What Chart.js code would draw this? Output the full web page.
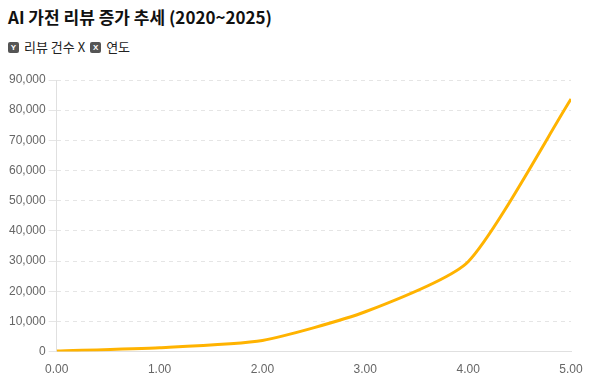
<!DOCTYPE html>
<html><head><meta charset="utf-8">
<script src="https://cdn.jsdelivr.net/npm/chart.js@4/dist/chart.umd.min.js"></script>
<style>
body{margin:0;width:594px;height:381px;overflow:hidden;background:#fff;font-family:"Noto Sans CJK KR","Noto Sans",sans-serif;}
#title{position:absolute;left:8px;top:5px;font-size:17px;font-weight:bold;color:#111;white-space:nowrap;line-height:24px;}
#legend{position:absolute;left:8px;top:39px;font-size:13px;color:#222;white-space:nowrap;line-height:16px;display:flex;align-items:center;}
.badge{display:inline-block;width:11px;height:11px;background:#555;color:#fff;border-radius:2px;font-size:8px;font-weight:bold;line-height:11px;text-align:center;font-family:"Liberation Sans",sans-serif;margin-right:5px;}
#wrap{position:absolute;left:0;top:66px;width:594px;height:315px;}
</style></head>
<body>
<div id="title">AI 가전 리뷰 증가 추세 (2020~2025)</div>
<div id="legend"><span class="badge">Y</span><span>리뷰 건수 X</span><span class="badge" style="margin-left:5px">X</span><span>연도</span></div>
<div id="wrap"><canvas id="c"></canvas></div>
<script>
const xValues = [0, 1, 2, 3, 4, 5];
const reviewCounts = [200, 1300, 3700, 13200, 29800, 83700];
const yTicks = [0, 10000, 20000, 30000, 40000, 50000, 60000, 70000, 80000, 90000];

const points = xValues.map((x, i) => ({x: x, y: reviewCounts[i]}));
new Chart(document.getElementById('c'), {
  type: 'line',
  data: { datasets: [{ label: '리뷰 건수', data: points, borderColor: '#FFB300', borderWidth: 3, pointRadius: 0, tension: 0.2, fill: false }] },
  options: {
    responsive: true, maintainAspectRatio: false, animation: false,
    layout: { padding: { left: 6, right: 23, top: 14, bottom: 1 } },
    plugins: { legend: { display: false }, tooltip: { enabled: false } },
    scales: {
      x: { type: 'linear', min: 0, max: 5,
        ticks: { stepSize: 1, color: '#666', font: { family: 'Liberation Sans', size: 12 }, callback: v => Number(v).toFixed(2) },
        grid: { display: false }, border: { display: true, color: '#e0e0e0' } },
      y: { min: 0, max: 90000,
        afterBuildTicks: s => { s.ticks = yTicks.map(v => ({ value: v })); },
        ticks: { color: '#666', font: { family: 'Liberation Sans', size: 12 }, callback: v => Number(v).toLocaleString('en-US') },
        grid: { color: '#e5e5e5', tickColor: '#e5e5e5' }, border: { display: true, color: '#e0e0e0', dash: [4, 4] } }
    }
  }
});
</script>
</body></html>
